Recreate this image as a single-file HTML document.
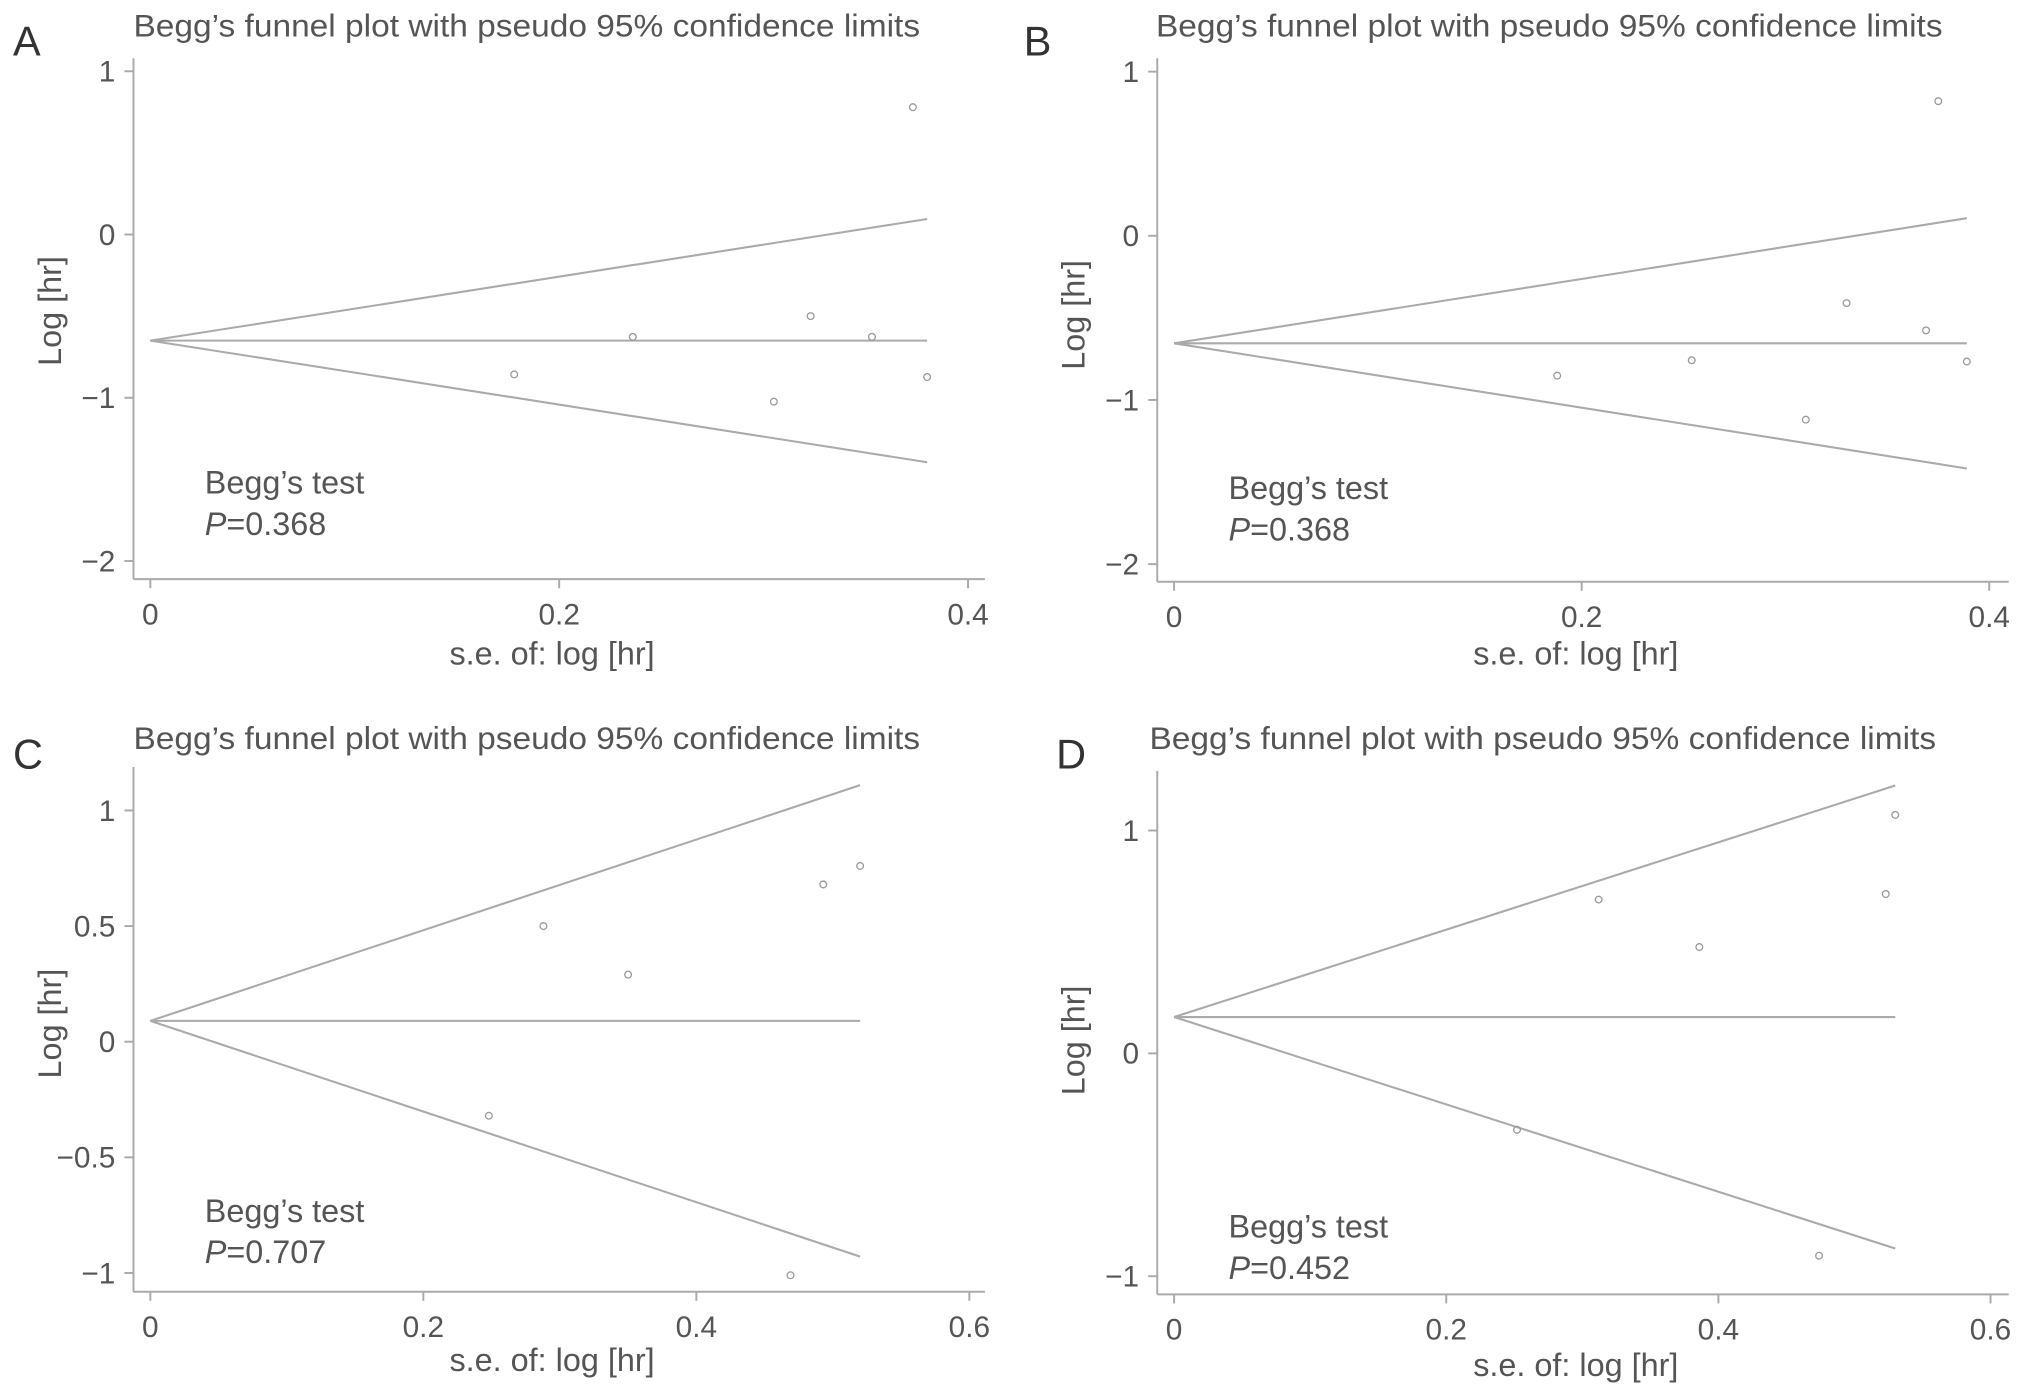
<!DOCTYPE html>
<html><head><meta charset="utf-8"><style>
html,body{margin:0;padding:0;background:#fff;}
svg{display:block;font-family:"Liberation Sans",Arial,sans-serif;}
</style></head><body>
<svg id="fig" width="2032" height="1398" viewBox="0 0 1568 1079" preserveAspectRatio="none" xmlns="http://www.w3.org/2000/svg"></svg>
<script>
// Panel A data
const aSe = [0.373, 0.178, 0.236, 0.323, 0.353, 0.305, 0.380];
const aLogHr = [0.78, -0.857, -0.627, -0.50, -0.627, -1.024, -0.873];
const aPooled = -0.65;
const aMaxSe = 0.380;
const aYTicks = [1, 0, -1, -2];
const aXTicks = [0, 0.2, 0.4];
const aP = "0.368";
// Panel B data
const bSe = [0.375, 0.188, 0.254, 0.330, 0.369, 0.310, 0.389];
const bLogHr = [0.82, -0.852, -0.758, -0.41, -0.576, -1.12, -0.766];
const bPooled = -0.655;
const bMaxSe = 0.389;
const bYTicks = [1, 0, -1, -2];
const bXTicks = [0, 0.2, 0.4];
const bP = "0.368";
// Panel C data
const cSe = [0.288, 0.350, 0.248, 0.493, 0.520, 0.469];
const cLogHr = [0.50, 0.29, -0.32, 0.68, 0.76, -1.01];
const cPooled = 0.09;
const cMaxSe = 0.52;
const cYTicks = [1, 0.5, 0, -0.5, -1];
const cXTicks = [0, 0.2, 0.4, 0.6];
const cP = "0.707";
// Panel D data
const dSe = [0.312, 0.386, 0.252, 0.523, 0.530, 0.474];
const dLogHr = [0.69, 0.477, -0.343, 0.715, 1.07, -0.908];
const dPooled = 0.163;
const dMaxSe = 0.530;
const dYTicks = [1, 0, -1];
const dXTicks = [0, 0.2, 0.4, 0.6];
const dP = "0.452";

const NS = "http://www.w3.org/2000/svg";
const svg = document.getElementById('fig');
function mk(tag, attrs, parent, text){
  const e = document.createElementNS(NS, tag);
  for (const k in attrs) e.setAttribute(k, attrs[k]);
  if (text !== undefined) e.textContent = text;
  parent.appendChild(e);
  return e;
}
function fmt(v){ return v < 0 ? '\u2212' + Math.abs(v) : String(v); }

function panel(cfg){
  const g = mk('g', {}, svg);
  
  
  const xs = v => cfg.x0px + (v - 0) / (cfg.xRef) * (cfg.xRefPx - cfg.x0px);
  const ys = v => cfg.y0px - v * cfg.yPerUnit;
  const L = mk('text', {x: cfg.letX, y: cfg.letY, 'font-size': 32, fill: '#333'}, g, cfg.letter);
  
  
  const T = mk('text', {x: cfg.titleX, y: cfg.titleY, 'font-size': 24.5, fill: '#555', textLength: 607, lengthAdjust: 'spacingAndGlyphs'}, g, "Begg\u2019s funnel plot with pseudo 95% confidence limits");
  
  
  const ya = mk('line', {x1: cfg.axX, y1: cfg.axTop, x2: cfg.axX, y2: cfg.axY, stroke: '#aaa', 'stroke-width': 1.5}, g);
  
  
  const xa = mk('line', {x1: cfg.axX, y1: cfg.axY, x2: cfg.axX + 657, y2: cfg.axY, stroke: '#aaa', 'stroke-width': 1.5}, g);
  
  
  cfg.yTicks.forEach(v => {
    const y = ys(v);
    mk('line', {x1: cfg.axX - 7, y1: y, x2: cfg.axX, y2: y, stroke: '#aaa', 'stroke-width': 1.5}, g);
    const t = mk('text', {x: cfg.axX - 14, y: y + 8, 'font-size': 23, fill: '#555', 'text-anchor': 'end'}, g, fmt(v));
    
    
  });
  cfg.xTicks.forEach(v => {
    const x = xs(v);
    mk('line', {x1: x, y1: cfg.axY, x2: x, y2: cfg.axY + 7, stroke: '#aaa', 'stroke-width': 1.5}, g);
    const t = mk('text', {x: x, y: cfg.axY + 35, 'font-size': 23, fill: '#555', 'text-anchor': 'middle'}, g, String(v));
    
    
  });
  const xt = mk('text', {x: cfg.axX + 323, y: cfg.xTitleY, 'font-size': 25, fill: '#555', 'text-anchor': 'middle'}, g, 's.e. of: log [hr]');
  
  
  const yt = mk('text', {x: 0, y: 0, 'font-size': 25, fill: '#555', 'text-anchor': 'middle', transform: 'translate(' + (cfg.axX - 56) + ',' + cfg.yTitleY + ') rotate(-90)'}, g, 'Log [hr]');
  
  
  const ax = xs(0), ay = ys(cfg.pooled), ex = xs(cfg.maxSe);
  const h = mk('line', {x1: ax, y1: ay, x2: ex, y2: ay, stroke: '#aaa', 'stroke-width': 1.6}, g);
  
  
  const up = mk('line', {x1: ax, y1: ay, x2: ex, y2: ys(cfg.pooled + 1.96 * cfg.maxSe), stroke: '#aaa', 'stroke-width': 1.6}, g);
  
  
  const lo = mk('line', {x1: ax, y1: ay, x2: ex, y2: ys(cfg.pooled - 1.96 * cfg.maxSe), stroke: '#aaa', 'stroke-width': 1.6}, g);
  
  
  cfg.se.forEach((s, i) => {
    const c = mk('circle', {cx: xs(s), cy: ys(cfg.lhr[i]), r: 2.6, fill: 'none', stroke: '#999', 'stroke-width': 1}, g);
    
    
  });
  const b1 = mk('text', {x: cfg.axX + 55, y: cfg.beggY, 'font-size': 25, fill: '#555'}, g, "Begg\u2019s test");
  
  
  const b2 = mk('text', {x: cfg.axX + 55, y: cfg.beggY + 32, 'font-size': 25, fill: '#555'}, g);
  
  
  mk('tspan', {'font-style': 'italic'}, b2, 'P');
  mk('tspan', {}, b2, '=' + cfg.p);
}

panel({letter:'A', letX:10, letY:43, titleX:103, titleY:28, axX:103, axTop:45, axY:447, x0px:116, xRef:0.4, xRefPx:747, y0px:181, yPerUnit:126,
  yTicks:aYTicks, xTicks:aXTicks, se:aSe, lhr:aLogHr, pooled:aPooled, maxSe:aMaxSe, p:aP, xTitleY:513, yTitleY:240, beggY:381});
panel({letter:'B', letX:790, letY:43, titleX:892, titleY:28, axX:893, axTop:45, axY:449, x0px:906, xRef:0.4, xRefPx:1535, y0px:182, yPerUnit:126.7,
  yTicks:bYTicks, xTicks:bXTicks, se:bSe, lhr:bLogHr, pooled:bPooled, maxSe:bMaxSe, p:bP, xTitleY:513, yTitleY:243, beggY:385});
panel({letter:'C', letX:10, letY:593, titleX:103, titleY:578, axX:103, axTop:592, axY:997, x0px:116, xRef:0.6, xRefPx:748, y0px:804, yPerUnit:178.5,
  yTicks:cYTicks, xTicks:cXTicks, se:cSe, lhr:cLogHr, pooled:cPooled, maxSe:cMaxSe, p:cP, xTitleY:1058, yTitleY:790, beggY:943});
panel({letter:'D', letX:815, letY:593, titleX:887, titleY:578, axX:893, axTop:595, axY:999, x0px:906, xRef:0.6, xRefPx:1536, y0px:813, yPerUnit:172,
  yTicks:dYTicks, xTicks:dXTicks, se:dSe, lhr:dLogHr, pooled:dPooled, maxSe:dMaxSe, p:dP, xTitleY:1062, yTitleY:803, beggY:955});
</script>
</body></html>
